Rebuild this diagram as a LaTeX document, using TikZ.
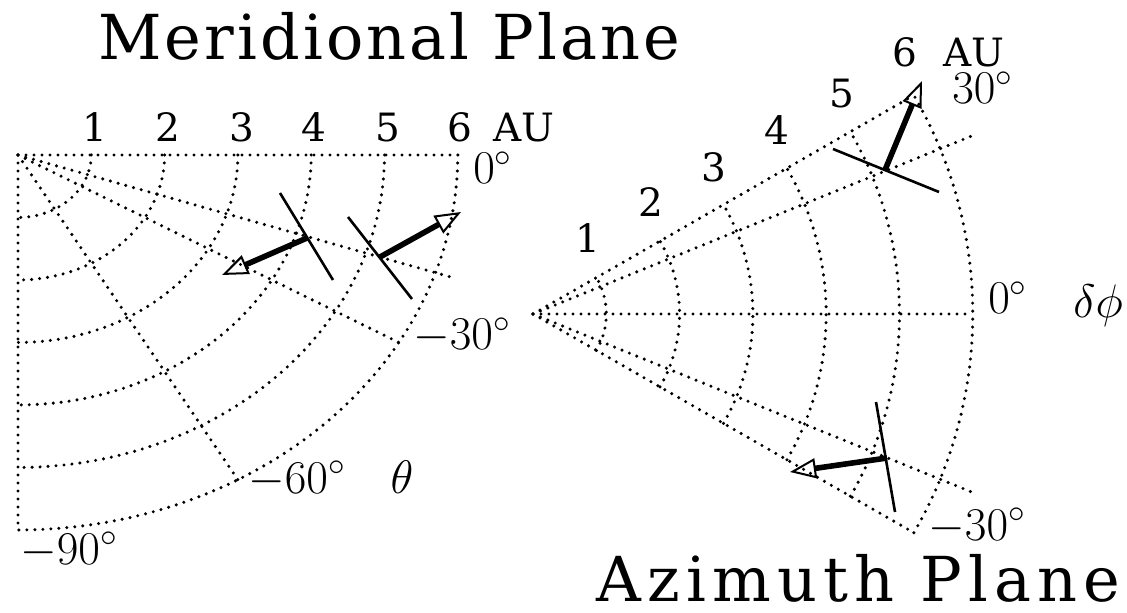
\RequirePackage{fix-cm}
\documentclass[tikz,border=0pt]{standalone}
\usepackage{fontspec}
\usetikzlibrary{arrows.meta}
\newfontfamily\platefont{DejaVu Serif}
\newfontfamily\titlefont[LetterSpace=5]{DejaVu Serif}
\newfontfamily\widetitlefont[LetterSpace=10]{DejaVu Serif}
\tikzset{
  dotline/.style={line width=1.7pt, line cap=round, dash pattern=on 0pt off 4pt},
  front/.style={line width=1.3pt},
  flow/.style={line width=2.8pt, -{Triangle[open, length=13pt, width=10pt, line width=1pt]}},
  au/.style={font=\platefont\fontsize{19.5}{22}\selectfont, inner sep=0pt},
  ang/.style={font=\fontsize{23.5}{27}\selectfont, inner sep=0pt},
  heading/.style={font=\titlefont\fontsize{31}{36}\selectfont, inner sep=0pt},
}

\begin{document}
\begin{tikzpicture}[x=0.5pt, y=-0.5pt]
  \useasboundingbox (0,0) rectangle (1127,613);

  % meridional plane grid
  \begin{scope}[shift={(18,155)}, x=36.65pt, y=31.25pt]
    \foreach \a in {0,-30,-60,-90} \draw[dotline] (0,0) -- (\a:6);
    \draw[dotline] (0,0) -- (-18.3:6.2);
    \foreach \r in {1,...,6} \draw[dotline] plot[domain=0:-90, samples=50] (\x:\r);
  \end{scope}

  % azimuth plane grid
  \begin{scope}[shift={(533,314)}, x=36.65pt, y=36.45pt]
    \foreach \a in {30,0,-30} \draw[dotline] (0,0) -- (\a:6);
    \foreach \a in {22.2,-22.2} \draw[dotline] (0,0) -- (\a:6.46);
    \foreach \r in {1,...,6} \draw[dotline] plot[domain=-30:30, samples=40] (\x:\r);
  \end{scope}

  % shock fronts and normals
  \coordinate (m1a) at (280,193); \coordinate (m1b) at (333,280);
  \coordinate (m1) at (307,238);  \coordinate (m1tip) at (222,275);
  \coordinate (m2a) at (348,217); \coordinate (m2b) at (412,299);
  \coordinate (m2) at (380,257);  \coordinate (m2tip) at (461,212);
  \coordinate (a1a) at (833,149); \coordinate (a1b) at (939,192);
  \coordinate (a1) at (885,170);  \coordinate (a1tip) at (922,81);
  \coordinate (a2a) at (876,402); \coordinate (a2b) at (895,512);
  \coordinate (a2) at (887,458);  \coordinate (a2tip) at (790,472);
  \foreach \s in {m1,m2,a1,a2} {
    \draw[front] (\s a) -- (\s b);
    \draw[flow] (\s) -- (\s tip);
  }

  % labels
  \foreach \n/\xx in {1/95,2/168,3/242,4/314,5/388,6/460}
    \node[au, anchor=base] (mr\n) at (\xx,142) {\n};
  \node[au, anchor=base west] (mau) at (493,142) {AU};
  \node[ang, anchor=base west] (m0) at (473,184) {$0^\circ$};
  \node[ang, anchor=base west] (m30) at (413,350) {$-30^\circ$};
  \node[ang, anchor=base west] (m60) at (248,493) {$-60^\circ$};
  \node[ang, anchor=base] (mtheta) at (402,493) {$\theta$};
  \node[ang, anchor=base west] (m90) at (20,564) {$-90^\circ$};

  \foreach \n/\xx/\yy in {1/588/253,2/651/217,3/714/182,4/777/145,5/842/108,6/905/67}
    \node[au, anchor=base] (ar\n) at (\xx,\yy) {\n};
  \node[au, anchor=base west] (aau) at (943,67) {AU};
  \node[ang, anchor=base west] (a30) at (952,104) {$30^\circ$};
  \node[ang, anchor=base west] (a0) at (988,314) {$0^\circ$};
  \node[ang, anchor=base west] (adphi) at (1073,318) {$\delta\phi$};
  \node[ang, anchor=base west] (am30) at (928,540) {$-30^\circ$};

  \node[heading, anchor=base west] (mtitle) at (98,60) {Meridional Plane};
  \node[heading, font=\widetitlefont\fontsize{31}{36}\selectfont, anchor=base west] (atitle) at (596,601) {Azimuth Plane};
\end{tikzpicture}
\end{document}
